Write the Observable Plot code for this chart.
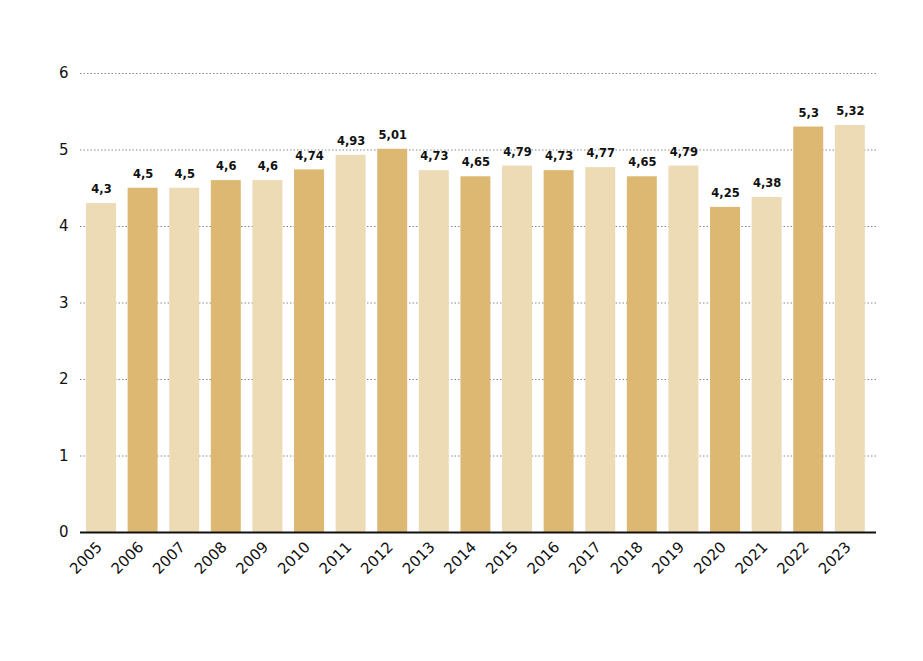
<!DOCTYPE html>
<html>
<head>
<meta charset="utf-8">
<script src="https://cdn.jsdelivr.net/npm/d3@7"></script>
<script src="https://cdn.jsdelivr.net/npm/@observablehq/plot@0.6"></script>
<style>
  html, body { margin: 0; padding: 0; background: #fff; }
  #chart { width: 923px; height: 661px; }
</style>
</head>
<body>
<div id="chart"></div>
<script>
const years = ["2005","2006","2007","2008","2009","2010","2011","2012","2013","2014","2015","2016","2017","2018","2019","2020","2021","2022","2023"];
const values = [4.3,4.5,4.5,4.6,4.6,4.74,4.93,5.01,4.73,4.65,4.79,4.73,4.77,4.65,4.79,4.25,4.38,5.3,5.32];
const labels = ["4,3","4,5","4,5","4,6","4,6","4,74","4,93","5,01","4,73","4,65","4,79","4,73","4,77","4,65","4,79","4,25","4,38","5,3","5,32"];
const yTicks = [0,1,2,3,4,5,6];
const colors = ["#EDDBB5", "#DDB872"];

const data = years.map((y, i) => ({year: y, value: values[i], label: labels[i], shade: i % 2}));

const chart = Plot.plot({
  width: 923,
  height: 661,
  marginTop: 73,
  marginBottom: 129,
  marginLeft: 80,
  marginRight: 47,
  style: {fontFamily: "'DejaVu Sans', sans-serif", color: "#111", background: "#fff"},
  x: {domain: years, padding: 0.28, paddingOuter: 0.207, align: 0.35, round: false, label: null},
  y: {domain: [0, 6], label: null},
  marks: [
    Plot.gridY(yTicks, {stroke: "#888", strokeOpacity: 1, strokeWidth: 1, strokeDasharray: "1.5,2"}),
    Plot.barY(data, {x: "year", y: "value", fill: d => colors[d.shade]}),
    Plot.text(data, {x: "year", y: "value", text: "label", dy: -14, fontSize: 11.5, fontWeight: "bold", fill: "#111"}),
    Plot.ruleY([0], {stroke: "#111", strokeWidth: 2}),
    Plot.axisY(yTicks, {tickSize: 0, tickPadding: 12, fontSize: 15, tickFormat: d => String(d), label: null, fill: "#111"}),
    Plot.axisX({tickSize: 0, tickPadding: 12, tickRotate: -45, fontSize: 15, label: null, fill: "#111", dx: -2})
  ]
});
document.getElementById("chart").appendChild(chart);
</script>
</body>
</html>
